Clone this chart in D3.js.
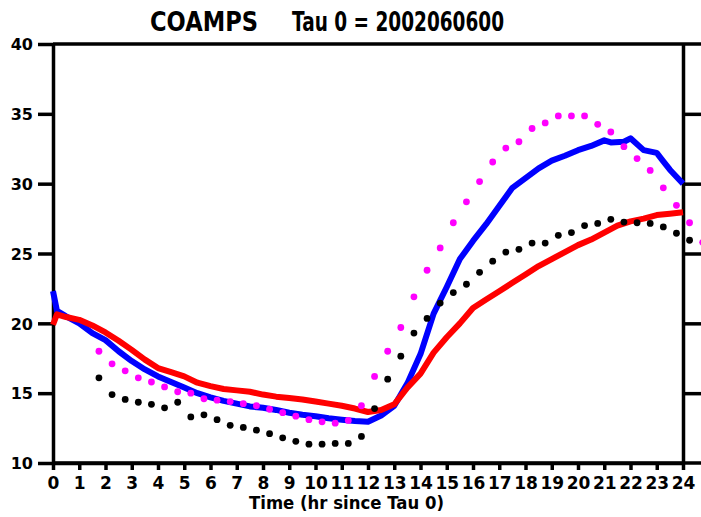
<!DOCTYPE html>
<html>
<head>
<meta charset="utf-8">
<script src="https://cdn.jsdelivr.net/npm/d3@7"></script>
<style>
  html, body { margin: 0; padding: 0; background: #fff; }
  svg { display: block; }
  text { font-family: "DejaVu Sans", sans-serif; font-weight: bold; fill: #000; }
</style>
</head>
<body>
<div id="plot"></div>
<script>
// Series values (hours since Tau 0, value)
const blueHours = [0, 0.15, 0.5, 1, 1.5, 2, 2.5, 3, 3.5, 4, 4.5, 5, 5.5, 6, 6.5, 7, 7.5, 8, 8.5, 9, 9.5, 10, 10.5, 11, 11.5, 12,
    12.5, 13, 13.5, 14, 14.5, 15, 15.5, 16, 16.5, 17, 17.5, 18, 18.5, 19, 19.5, 20, 20.5, 21, 21.25, 21.75, 22, 22.5, 23, 23.25, 23.5, 23.75, 24];
const blueValues = [22.3, 20.9, 20.5, 20.0, 19.3, 18.8, 18.0, 17.3, 16.7, 16.2, 15.8, 15.4, 15.0, 14.7, 14.45, 14.25, 14.05, 13.95, 13.8, 13.6, 13.45, 13.35, 13.2, 13.1, 13.0, 12.95,
    13.4, 14.1, 15.7, 17.8, 20.7, 22.6, 24.6, 25.9, 27.1, 28.4, 29.7, 30.4, 31.1, 31.65, 32.0, 32.4, 32.7, 33.1, 32.95, 33.0, 33.25, 32.4, 32.2, 31.6, 31.0, 30.5, 30.0];

const redHours = [0, 0.15, 0.5, 1, 1.5, 2, 2.5, 3, 3.5, 4, 4.5, 5, 5.5, 6, 6.5, 7, 7.5, 8, 8.5, 9, 9.5, 10, 10.5, 11, 11.5, 12,
    12.5, 13, 13.5, 14, 14.5, 15, 15.5, 16, 16.5, 17, 17.5, 18, 18.5, 19, 19.5, 20, 20.5, 21, 21.5, 22, 22.5, 23, 23.5, 24];
const redValues = [19.9, 20.65, 20.45, 20.25, 19.85, 19.35, 18.75, 18.1, 17.4, 16.8, 16.5, 16.2, 15.75, 15.5, 15.3, 15.2, 15.1, 14.9, 14.75, 14.65, 14.55, 14.4, 14.25, 14.1, 13.9, 13.65,
    13.8, 14.2, 15.4, 16.4, 17.9, 19.0, 20.0, 21.1, 21.7, 22.3, 22.9, 23.5, 24.1, 24.6, 25.1, 25.6, 26.0, 26.5, 27.0, 27.3, 27.5, 27.75, 27.85, 27.95];

// Dotted series, every half hour starting at 1.75 h
const magentaValues = [18.0, 17.1, 16.6, 16.1, 15.8, 15.45, 15.1, 15.0, 14.6, 14.5, 14.4, 14.25, 14.1, 13.85, 13.6, 13.35, 13.1, 12.95, 12.85, 13.05,
    14.1, 16.2, 18.0, 19.7, 21.9, 23.8, 25.4, 27.2, 28.7, 30.15, 31.55, 32.55, 33.0, 33.95, 34.35, 34.85, 34.85, 34.85, 34.25, 33.7, 32.65, 31.8, 30.95, 29.7, 28.45, 27.2, 25.8];
const blackValues = [16.1, 14.9, 14.55, 14.35, 14.2, 13.95, 14.35, 13.3, 13.45, 13.1, 12.7, 12.55, 12.35, 12.1, 11.8, 11.55, 11.35, 11.35, 11.4, 11.4,
    11.9, 13.9, 16.0, 17.65, 19.3, 20.35, 21.45, 22.2, 22.8, 23.65, 24.45, 25.1, 25.3, 25.75, 25.75, 26.3, 26.5, 27.0, 27.15, 27.45, 27.25, 27.2, 27.15, 26.9, 26.45, 25.95];
const dotStart = 1.75;
const dotStep = 0.5;

const xTicks = d3.range(0, 25);
const yTicks = [10, 15, 20, 25, 30, 35, 40];

const W = 701, H = 517;
const svg = d3.select("#plot").append("svg")
    .attr("width", W)
    .attr("height", H);

const x = d3.scaleLinear().domain([0, 24]).range([53, 683]);
const y = d3.scaleLinear().domain([10, 40]).range([463, 44]);

// Title
svg.append("text")
    .attr("x", 150).attr("y", 31)
    .attr("font-size", 27)
    .attr("textLength", 108).attr("lengthAdjust", "spacingAndGlyphs")
    .text("COAMPS");
svg.append("text")
    .attr("x", 292).attr("y", 31)
    .attr("font-size", 27)
    .attr("textLength", 212).attr("lengthAdjust", "spacingAndGlyphs")
    .text("Tau 0 = 2002060600");

// Axes
const leftAxis = svg.append("g")
    .attr("transform", `translate(${x(0)},0)`)
    .call(d3.axisLeft(y).tickValues(yTicks).tickSize(15).tickSizeOuter(0).tickPadding(5));
const rightAxis = svg.append("g")
    .attr("transform", `translate(${x(24)},0)`)
    .call(d3.axisRight(y).tickValues(yTicks.slice(1, -1)).tickSize(18).tickSizeOuter(0).tickFormat(""));
const bottomAxis = svg.append("g")
    .attr("transform", `translate(0,${y(10)})`)
    .call(d3.axisBottom(x).tickValues(xTicks).tickSize(7).tickSizeOuter(0).tickPadding(6));

[leftAxis, rightAxis, bottomAxis].forEach(g => {
    g.selectAll("path.domain").attr("stroke", "#000").attr("stroke-width", 3.5);
    g.selectAll(".tick line").attr("stroke", "#000").attr("stroke-width", 3.5);
    g.selectAll(".tick text")
        .style("font-family", "'DejaVu Sans', sans-serif")
        .style("font-weight", "bold")
        .attr("font-size", 16)
        .attr("fill", "#000");
});
leftAxis.selectAll(".tick text").attr("dy", "0.36em");
bottomAxis.selectAll(".tick text").attr("dy", "0.75em").attr("font-size", 17);

// Frame lines at top and bottom run out to the page edge
svg.append("line")
    .attr("x1", x(0)).attr("x2", W).attr("y1", y(40)).attr("y2", y(40))
    .attr("stroke", "#000").attr("stroke-width", 3.5);
svg.append("line")
    .attr("x1", x(0)).attr("x2", W).attr("y1", y(10)).attr("y2", y(10))
    .attr("stroke", "#000").attr("stroke-width", 3.5);

// X axis title
svg.append("text")
    .attr("x", 249).attr("y", 509)
    .attr("font-size", 18)
    .attr("textLength", 195).attr("lengthAdjust", "spacingAndGlyphs")
    .text("Time (hr since Tau 0)");

// Lines
const line = d3.line()
    .x(d => x(d[0]))
    .y(d => y(d[1]));

svg.append("path")
    .datum(blueHours.map((h, i) => [h, blueValues[i]]))
    .attr("fill", "none")
    .attr("stroke", "#0000ff")
    .attr("stroke-width", 6)
    .attr("stroke-linejoin", "round")
    .attr("d", line);

svg.append("path")
    .datum(redHours.map((h, i) => [h, redValues[i]]))
    .attr("fill", "none")
    .attr("stroke", "#ff0000")
    .attr("stroke-width", 6)
    .attr("stroke-linejoin", "round")
    .attr("d", line);

// Dotted series
function drawDots(values, color) {
    svg.append("g")
        .selectAll("circle")
        .data(values)
        .enter()
        .append("circle")
        .attr("cx", (d, i) => x(dotStart + i * dotStep))
        .attr("cy", d => y(d))
        .attr("r", 3.4)
        .attr("fill", color);
}
drawDots(blackValues, "#000000");
drawDots(magentaValues, "#ff00ff");
</script>
</body>
</html>
